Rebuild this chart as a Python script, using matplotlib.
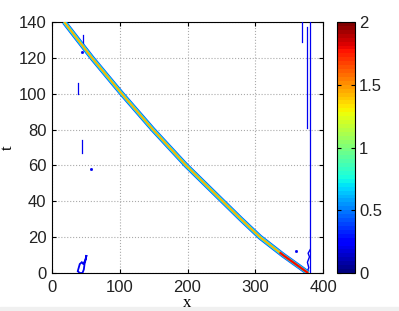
import numpy as np
import matplotlib
matplotlib.use("Agg")
import matplotlib.pyplot as plt
from matplotlib.patches import Rectangle

# ---- data ----
curve_x = [18, 59, 103, 149, 198, 252, 279, 307, 341, 378]
curve_t = [140, 120, 100, 80, 60, 40, 30, 20, 10, 0]
hot_x = [336, 341, 378]
hot_t = [11.5, 10, 0]

# thin blue contour fragments (x list, t list)
frag_right = [([369, 369], [140, 129]),
              ([376, 376], [137, 81]),
              ([381, 381], [140, 0])]
frag_left = [([45.7, 45.7], [126, 133]),
             ([38.6, 38.6], [100, 106]),
             ([44, 44], [67, 74])]
dots_x = [45, 58, 360]
dots_t = [123, 58, 12]
blob_x = [38, 41, 45, 47, 48, 50, 51, 49, 46, 44, 41, 38]
blob_t = [1, 0, 0, 2, 5, 8, 10, 7, 5, 6, 5, 1]
blob2_x = [376, 379, 377, 380, 378, 381]
blob2_t = [0, 3, 6, 9, 11, 13]

cbar_ticks = [0, 0.5, 1, 1.5, 2]
x_ticks = [0, 100, 200, 300, 400]
t_ticks = [0, 20, 40, 60, 80, 100, 120, 140]

cmap = plt.get_cmap("jet")
plt.rcParams['font.family'] = ['Liberation Sans', 'DejaVu Sans']

fig = plt.figure(figsize=(3.99, 3.11), dpi=100)
fig.patch.set_facecolor("white")
fig.add_artist(Rectangle((0, 0), 1, 4/311, transform=fig.transFigure,
                         color="#f0f0f0", zorder=-5))

ax = fig.add_axes([52/399, 38/311, 271/399, 251/311])
ax.set_xlim(0, 400)
ax.set_ylim(0, 140)

# band
ax.plot(curve_x, curve_t, color=cmap(0.2), lw=3.6, solid_capstyle="butt",
        solid_joinstyle="round", zorder=3)
ax.plot(curve_x, curve_t, color=cmap(0.36), lw=2.6, solid_capstyle="butt",
        solid_joinstyle="round", zorder=4)
ax.plot(curve_x, curve_t, color=cmap(0.72), lw=1.5, solid_capstyle="butt",
        solid_joinstyle="round", zorder=5)
ax.plot(hot_x, hot_t, color=cmap(0.9), lw=1.6, solid_capstyle="butt", zorder=6)

blue = cmap(0.1)
for fx, ft in frag_right + frag_left:
    ax.plot(fx, ft, color=blue, lw=0.9, zorder=3)
ax.plot(dots_x, dots_t, ls="none", marker="s", ms=1.0, color=blue, zorder=3)
ax.fill(blob_x, blob_t, facecolor="none", edgecolor=blue, lw=1.3, zorder=3)
ax.plot(blob2_x, blob2_t, color=blue, lw=1.0, zorder=3)

ax.set_xticks(x_ticks)
ax.set_yticks(t_ticks)
ax.tick_params(direction="in", labelsize=12, length=3, top=True, right=True, pad=4,
               labelcolor="#222222")
ax.tick_params(axis="x", pad=5)
ax.grid(True, ls=":", color="#aaaaaa", lw=0.8)
for s in ax.spines.values():
    s.set_linewidth(0.8)
ax.set_xlabel("x", family="Liberation Serif", fontsize=12)
ax.xaxis.set_label_coords(0.5, (8 - 38) / 251)
ax.xaxis.label.set_va("center")
ax.set_ylabel("t", family="Liberation Serif", fontsize=12)
ax.yaxis.set_label_coords((8 - 52) / 271, 0.5)
ax.yaxis.label.set_va("center")

cax = fig.add_axes([337/399, 38/311, 18/399, 251/311])
sm = matplotlib.cm.ScalarMappable(norm=matplotlib.colors.Normalize(0, 2),
                                  cmap=plt.get_cmap("jet", 64))
cb = fig.colorbar(sm, cax=cax, ticks=cbar_ticks)
cb.ax.set_yticklabels(["0", "0.5", "1", "1.5", "2"])
cb.ax.tick_params(direction="in", labelsize=12, length=3, left=True, right=True,
                  pad=3, labelcolor="#222222")
cb.outline.set_linewidth(0.8)

fig.savefig("out.png", dpi=100)
